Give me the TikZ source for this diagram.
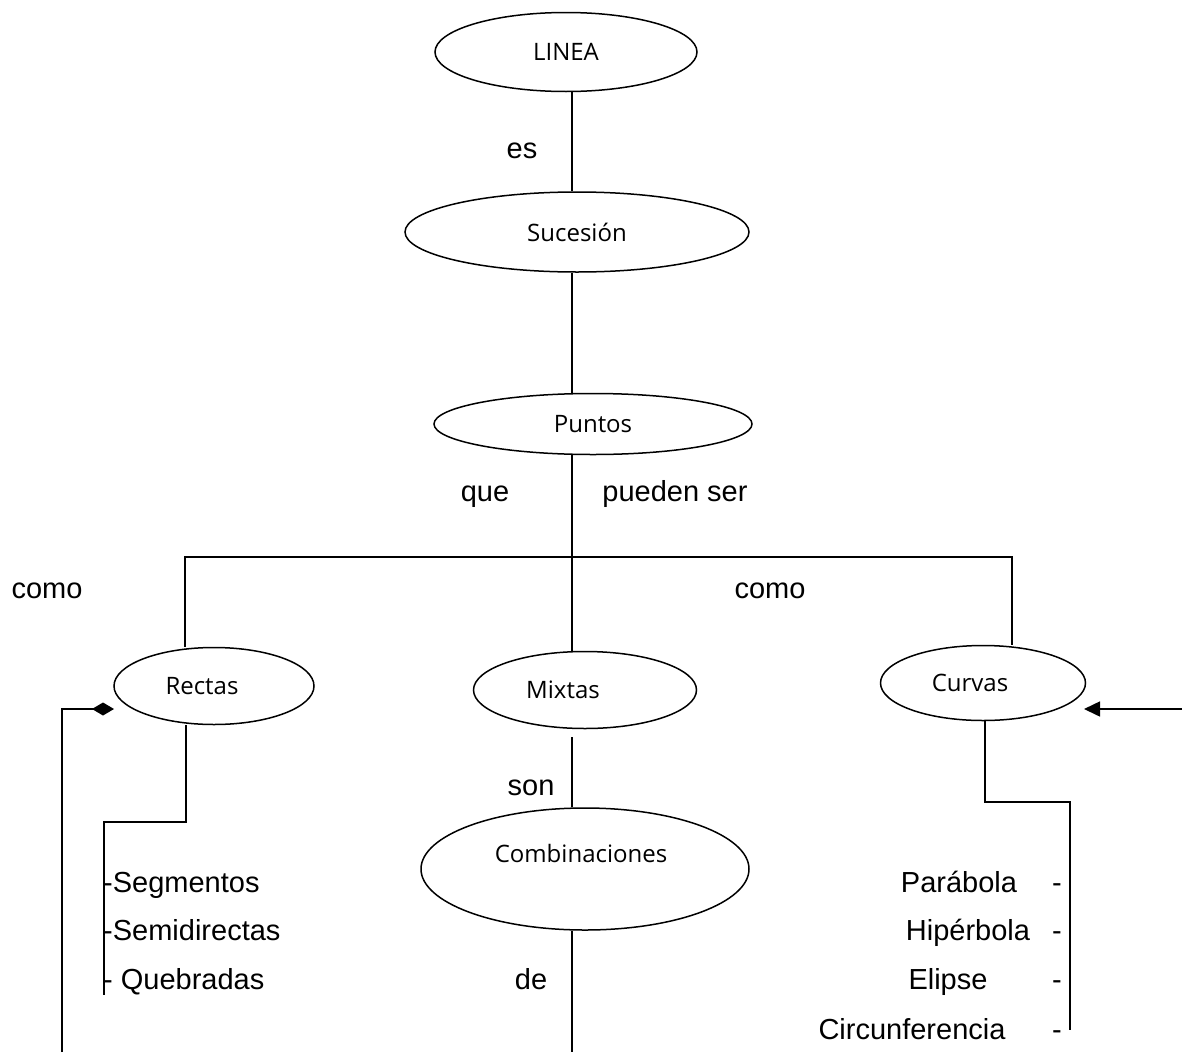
\documentclass[tikz,border=0pt]{standalone}
\usepackage{fontspec}
\setmainfont{Liberation Sans}
\newfontfamily\nodefont{Open Sans}
\usetikzlibrary{shapes.geometric,arrows.meta}
\begin{document}
\begin{tikzpicture}[x=1pt,y=-1pt,
  oval/.style={ellipse,draw,line width=1.5pt,inner sep=0pt,font=\nodefont\fontsize{24}{28}\selectfont},
  conn/.style={line width=1.6pt,line join=miter},
  lbl/.style={font=\fontsize{29}{33}\selectfont,inner sep=0pt,text height=22pt,text depth=4pt}]
\useasboundingbox[fill=white] (0,0) rectangle (1182,1052);

% concept nodes
\node[oval,minimum width=262pt,minimum height=79pt] (linea) at (566,52) {LINEA};
\node[oval,minimum width=344pt,minimum height=80pt] (suc) at (577,232) {Sucesión};
\node[oval,minimum width=318pt,minimum height=61pt] (pun) at (593,424) {Puntos};
\node[oval,minimum width=200pt,minimum height=77pt] (rec) at (214,686) {Rectas\hspace*{24pt}};
\node[oval,minimum width=223pt,minimum height=77pt] (mix) at (585,690) {Mixtas\hspace*{44pt}};
\node[oval,minimum width=205pt,minimum height=75pt] (cur) at (983,683) {Curvas\hspace*{26pt}};
\node[oval,minimum width=328pt,minimum height=122pt] (comb) at (585,869) {\raisebox{32pt}{Combinaciones}\hspace*{8pt}};

% helper coordinates
\coordinate (spine) at (572,0);
\coordinate (bl) at (185,557);
\coordinate (br) at (1012,557);
\coordinate (rc1) at (186,822);
\coordinate (rc2) at (104,822);
\coordinate (rc3) at (104,995);
\coordinate (cc1) at (985,802);
\coordinate (cc2) at (1070,802);
\coordinate (cc3) at (1070,1030);
\coordinate (bottom) at (572,1052);
\coordinate (la0) at (62,1052);
\coordinate (la1) at (62,709);
\coordinate (la2) at (114,709);
\coordinate (ra0) at (1182,709);
\coordinate (ra1) at (1084,709);

% connectors
\draw[conn] (linea.south -| spine) -- (suc.north -| spine);
\draw[conn] (suc.south -| spine) -- (pun.north -| spine);
\draw[conn] (pun.south -| spine) -- (mix.north -| spine);
\draw[conn] (rec.north -| bl) -- (bl) -- (br) -- (cur.north -| br);
\draw[conn,shorten <=8pt] (mix.south -| spine) -- (comb.north -| spine);
\draw[conn] (comb.south -| spine) -- (bottom);
\draw[conn] (rec.south -| rc1) -- (rc1) -- (rc2) -- (rc3);
\draw[conn] (cur.south -| cc1) -- (cc1) -- (cc2) -- (cc3);
\draw[conn,-{Diamond[length=22pt,width=13pt]}] (la0) -- (la1) -- (la2);
\draw[conn,-{Triangle[length=16pt,width=15pt]}] (ra0) -- (ra1);

% linking words
\node[lbl] (es) at (522,149) {es};
\node[lbl] (que) at (485,492) {que};
\node[lbl] (pued) at (675,492) {pueden ser};
\node[lbl] (como1) at (47,589) {como};
\node[lbl] (como2) at (770,589) {como};
\node[lbl] (son) at (531,786) {son};
\node[lbl] (de) at (531,980) {de};

% lists
\node[lbl,anchor=west] (seg) at (103,883) {-Segmentos};
\node[lbl,anchor=west] (semi) at (103,931) {-Semidirectas};
\node[lbl,anchor=west] (queb) at (103,980) {- Quebradas};

\node[lbl] (para) at (959,883) {Parábola};
\node[lbl] (hipe) at (968,931) {Hipérbola};
\node[lbl] (elip) at (948,980) {Elipse};
\node[lbl] (circ) at (912,1030) {Circunferencia};
\node[lbl] (d1) at (1057,883) {-};
\node[lbl] (d2) at (1057,931) {-};
\node[lbl] (d3) at (1057,980) {-};
\node[lbl] (d4) at (1057,1030) {-};
\end{tikzpicture}
\end{document}
